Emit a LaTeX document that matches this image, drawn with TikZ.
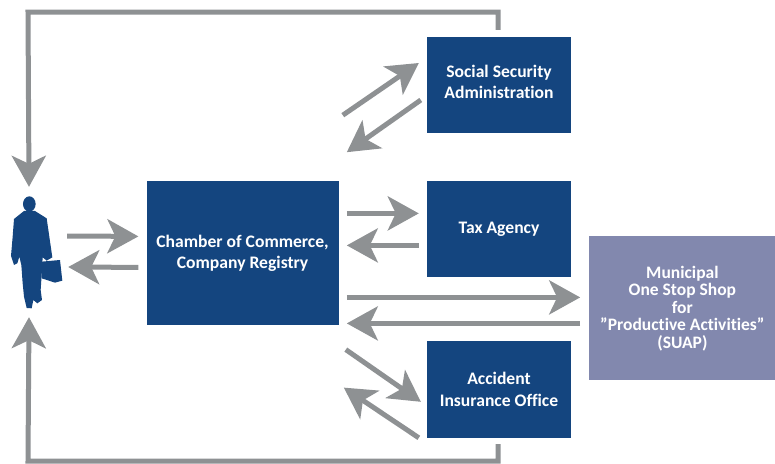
\documentclass[tikz,border=0pt]{standalone}
\usepackage{fontspec}
\setmainfont[Ligatures=NoCommon]{Carlito}
\usetikzlibrary{positioning,arrows.meta}
\definecolor{boxblue}{HTML}{14457F}
\definecolor{suapblue}{HTML}{8288AE}
\definecolor{flowgray}{HTML}{8E9193}
\tikzset{
  office/.style={fill=boxblue, text=white, minimum width=144pt, minimum height=96pt,
    align=center, inner sep=0pt, font=\fontsize{17.6}{21.5}\selectfont\bfseries},
  flow/.style={draw=flowgray, line width=5pt, -{Stealth[length=31pt,width=34pt,inset=8pt]}}
}
\begin{document}
\begin{tikzpicture}[x=1pt, y=-1pt]
      \useasboundingbox (0,0) rectangle (775,463);
      % Define nodes
      \node[office] (social) at (499,85) {Social Security\\Administration\\[-15.5pt]};
      \node[office, below=48pt of social] (tax) {Tax Agency\\[-17.5pt]};
      \node[office, below=63pt of tax, minimum height=97pt] (accident) {Accident\\Insurance Office};
      \node[office, left=88pt of tax, yshift=-24pt, minimum width=192pt, minimum height=144pt] (chamber) {Chamber of Commerce,\\Company Registry\\[-18.5pt]};
      \node[office, right=18pt of tax, yshift=-79pt, fill=suapblue, minimum width=186pt, minimum height=144pt,
        font=\fontsize{17.5}{17.6}\selectfont\bfseries] (suap) {Municipal\\One Stop Shop\\for\\''Productive Activities''\\(SUAP)};
      \node[minimum width=52pt, minimum height=110pt, inner sep=0pt] (person) at (36,253) {};
      \coordinate (topleft) at (28,12);
      \coordinate (bottomleft) at (28,461);
      % Person
      \begin{scope}[shift={(0,150)}, x=0.3333pt, y=-0.3333pt, fill=boxblue]
        \fill (88,162) ellipse (19 and 23);
        \fill (72,183) -- (42,207) -- (38,260) -- (33,318) -- (42,345) -- (52,340) -- (58,320) -- (64,345)
          -- (68,400) -- (72,440) -- (80,474) -- (95,475) -- (100,450) -- (112,460) -- (126,450)
          -- (122,420) -- (125,375) -- (128,322) -- (140,332) -- (157,322) -- (148,260) -- (140,205)
          -- (105,183) -- cycle;
        \fill (125,335) -- (180,330) -- (187,392) -- (165,398) -- (125,385) -- cycle;
      \end{scope}
      % Connect nodes
      \draw[flow] ([xshift=5pt,yshift=17pt]person.east) -- ([xshift=-8pt,yshift=17pt]chamber.west);
      \draw[flow] ([xshift=-8pt,yshift=-14pt]chamber.west) -- ([xshift=6pt,yshift=-14pt]person.east);
      \draw[flow] ([xshift=4pt,yshift=66pt]chamber.north east) -- ([xshift=-8pt,yshift=22pt]social.west);
      \draw[flow] ([xshift=-6pt,yshift=-15pt]social.west) -- ([xshift=8pt,yshift=29pt]chamber.north east);
      \draw[flow] ([xshift=8pt,yshift=40pt]chamber.east) -- ([xshift=-8pt,yshift=16pt]tax.west);
      \draw[flow] ([xshift=-8pt,yshift=-16pt]tax.west) -- ([xshift=8pt,yshift=8pt]chamber.east);
      \draw[flow] ([xshift=8pt,yshift=-44pt]chamber.east) -- ([xshift=-9pt,yshift=11pt]suap.west);
      \draw[flow] ([xshift=-9pt,yshift=-15pt]suap.west) -- ([xshift=8pt,yshift=-70pt]chamber.east);
      \draw[flow] ([xshift=7pt,yshift=-24pt]chamber.south east) -- ([xshift=-6pt,yshift=-12.5pt]accident.west);
      \draw[flow] ([xshift=-8pt,yshift=-48.5pt]accident.west) -- ([xshift=5pt,yshift=-62pt]chamber.south east);
      \draw[flow] ([xshift=-1pt,yshift=7pt]social.north) |- (topleft) -- ([xshift=-7pt,yshift=11pt]person.north);
      \draw[flow] ([xshift=-1pt,yshift=-6pt]accident.south) |- (bottomleft) -- ([xshift=-7pt,yshift=-9pt]person.south);
    \end{tikzpicture}
\end{document}
